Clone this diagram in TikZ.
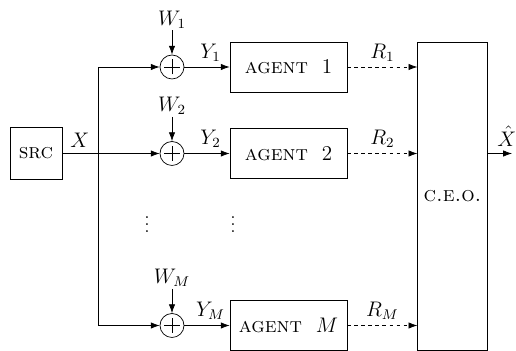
\documentclass[tikz,border=0pt]{standalone}
\usepackage{amsmath, amssymb}
\usetikzlibrary{arrows.meta, positioning, calc}

\begin{document}
\begin{tikzpicture}[
  font=\large,
  >={Latex[length=5pt, width=3.6pt]},
  block/.style={draw, minimum width=2.34cm, minimum height=1.0cm, anchor=center},
  adder/.style={draw, circle, minimum size=0.48cm, inner sep=0pt},
  lbl/.style={inner sep=1pt},
]
\useasboundingbox (0,0) rectangle (10.32,7.02);
% Source and decoder
\node[draw, minimum width=1.04cm, minimum height=1.04cm] (src) at (0.72,3.95) {\textsc{src}};
\node[draw, minimum width=1.3cm, minimum height=6.16cm] (ceo) at (9.05,3.09) {\textsc{c.e.o.}};
\coordinate (xhat) at (10.24,3.95);
% Agent rows
\foreach \i/\y/\idx in {1/5.68/1, 2/3.95/2, m/0.51/M}{
  \node[adder] (add\i) at (3.44,\y) {};
  \draw (add\i.center) ++(-0.15,0) -- ++(0.3,0) (add\i.center) ++(0,-0.15) -- ++(0,0.3);
  \node[block] (agent\i) at (5.77,\y) {\textsc{agent}\ \ $\idx$};
  \coordinate (w\i) at (3.44,\y+0.73);
  \node[lbl, anchor=south] at (w\i) {$W_{\idx}$};
  \draw[->] (w\i) -- (add\i.north);
  \draw[->] (add\i) -- (agent\i) node[lbl, midway, above=2pt, xshift=2pt] {$Y_{\idx}$};
  \draw[->, dash pattern=on 2pt off 2pt] (agent\i) -- (agent\i.east -| ceo.west)
    node[lbl, midway, above=2pt] {$R_{\idx}$};
}
% Broadcast bus
\coordinate (bus1) at (1.96,5.68);
\coordinate (busm) at (1.96,0.51);
\draw[->] (src) -- (add2) node[lbl, pos=0.18, above=2pt] {$X$};
\draw[<->] (add1.west) -- (bus1) -- (busm) -- (addm.west);
\draw[->] (ceo.east |- xhat) -- (xhat) node[lbl, above=3pt, xshift=-3pt] {$\hat{X}$};
% Omitted rows
\node[font=\normalsize, inner sep=0pt] (dots1) at (2.94,2.64) {$\vdots$};
\node[font=\normalsize, inner sep=0pt] (dots2) at (4.66,2.64) {$\vdots$};
\end{tikzpicture}
\end{document}
